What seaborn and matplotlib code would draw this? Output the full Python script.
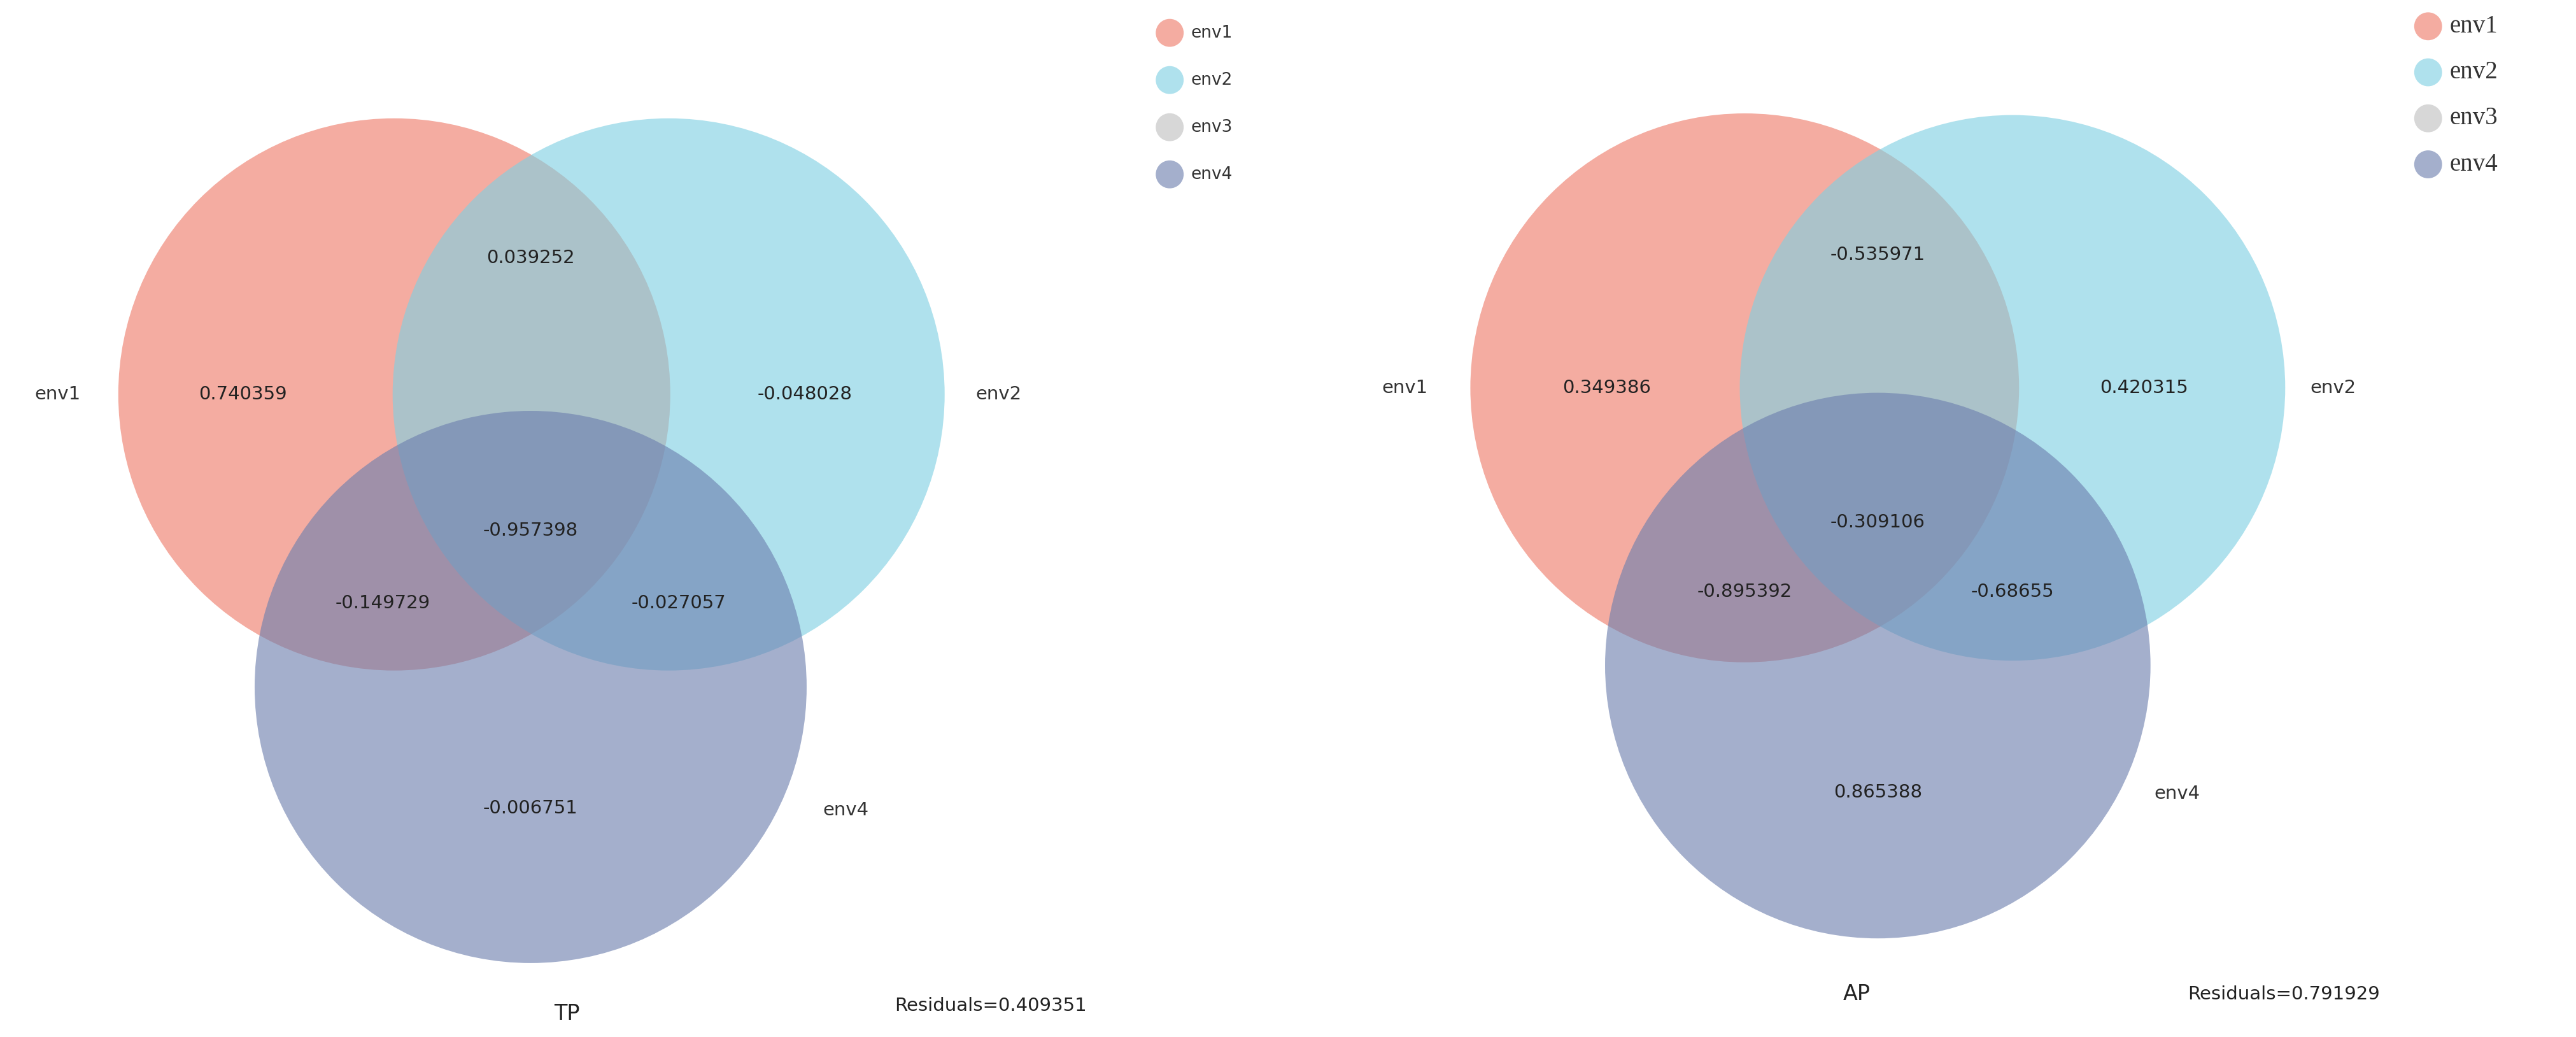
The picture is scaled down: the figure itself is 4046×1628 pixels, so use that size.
import matplotlib
matplotlib.use("Agg")
import matplotlib.pyplot as plt
from matplotlib.patches import Circle
import seaborn as sns

sns.set_style("white")

# sets and colours
set_names = ["env1", "env2", "env3", "env4"]
set_colors = ["#EE7A68", "#7FD0E2", "#BFBFBF", "#6C7FAE"]

# panel TP
tp_circles = {"env1": (240, 240, 168), "env2": (407, 240, 168), "env4": (323, 418, 168)}
tp_set_labels = [("env1", 35, 240), ("env2", 608, 240), ("env4", 515, 493)]
tp_values = [("0.039252", 323, 157), ("0.740359", 148, 240), ("-0.048028", 490, 240),
             ("-0.957398", 323, 323), ("-0.149729", 233, 367), ("-0.027057", 413, 367),
             ("-0.006751", 323, 492)]
tp_title = ("TP", 345, 617)
tp_resid = ("Residuals=0.409351", 603, 612)

# panel AP
ap_circles = {"env1": (1062, 236, 167), "env2": (1225, 236, 166), "env4": (1143, 405, 166)}
ap_set_labels = [("env1", 855, 236), ("env2", 1420, 236), ("env4", 1325, 483)]
ap_values = [("-0.535971", 1143, 155), ("0.349386", 978, 236), ("0.420315", 1305, 236),
             ("-0.309106", 1143, 318), ("-0.895392", 1062, 360), ("-0.68655", 1225, 360),
             ("0.865388", 1143, 482)]
ap_title = ("AP", 1130, 605)
ap_resid = ("Residuals=0.791929", 1390, 605)

fig = plt.figure(figsize=(40.46, 16.28), dpi=100)
ax = fig.add_axes([0, 0, 1, 1])
ax.set_xlim(0, 1568)
ax.set_ylim(631, 0)
ax.axis("off")

fs = 21


def draw_panel(circles, set_labels, values, title, resid):
    for name, (x, y, r) in circles.items():
        c = set_colors[set_names.index(name)]
        ax.add_patch(Circle((x, y), r, facecolor=c, edgecolor="none", alpha=0.62))
    for t, x, y in set_labels:
        ax.text(x, y, t, ha="center", va="center", fontsize=fs, color="#333333")
    for t, x, y in values:
        ax.text(x, y, t, ha="center", va="center", fontsize=fs, color="#222222")
    ax.text(title[1], title[2], title[0], ha="center", va="center", fontsize=fs + 3, color="#222222")
    ax.text(resid[1], resid[2], resid[0], ha="center", va="center", fontsize=fs, color="#222222")


draw_panel(tp_circles, tp_set_labels, tp_values, tp_title, tp_resid)
draw_panel(ap_circles, ap_set_labels, ap_values, ap_title, ap_resid)

# legends
for i, (name, c) in enumerate(zip(set_names, set_colors)):
    y = 20 + i * 28.7
    ax.add_patch(Circle((712, y), 8.5, facecolor=c, edgecolor="none", alpha=0.62))
    ax.text(725, y, name, ha="left", va="center", fontsize=fs - 2, color="#333333")
    y2 = 16 + i * 28
    ax.add_patch(Circle((1478, y2), 8.5, facecolor=c, edgecolor="none", alpha=0.62))
    ax.text(1491, y2, name, ha="left", va="center", fontsize=fs + 7,
            family="Liberation Serif", color="#333333")

fig.savefig("out.png", dpi=100)
